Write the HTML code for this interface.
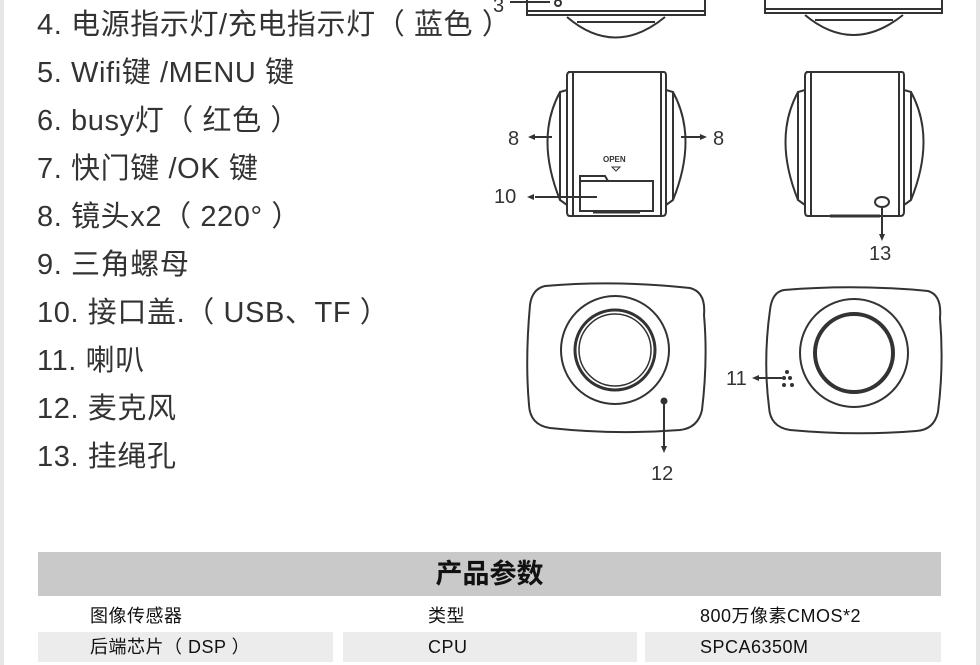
<!DOCTYPE html>
<html><head><meta charset="utf-8"><style>
body{margin:0;width:980px;height:665px;background:#fff;position:relative;overflow:hidden;font-family:"Liberation Sans","Noto Sans CJK SC",sans-serif;color:#333}
.bl{position:absolute;left:0;top:0;width:4px;height:665px;background:#e6e6e6}
.br{position:absolute;right:0;top:0;width:4px;height:665px;background:#e6e6e6}
.li{position:absolute;left:37px;font-size:29px;line-height:34px;white-space:nowrap;letter-spacing:0.6px}
.hd{position:absolute;left:38px;top:552px;width:903px;height:44px;background:#c9c9c9;text-align:center;font-size:27px;font-weight:bold;line-height:44px;color:#111}
.c{position:absolute;font-size:18px;line-height:30px;color:#111;letter-spacing:0.5px}
.g{position:absolute;top:632px;height:30px;background:#ececec}
</style></head><body>
<div class="bl"></div><div class="br"></div>
<div class="li" style="top:8px">4. 电源指示灯/充电指示灯（ 蓝色 ）</div>
<div class="li" style="top:56px">5. Wifi键 /MENU 键</div>
<div class="li" style="top:104px">6. busy灯（ 红色 ）</div>
<div class="li" style="top:152px">7. 快门键 /OK 键</div>
<div class="li" style="top:200px">8. 镜头x2（ 220° ）</div>
<div class="li" style="top:248px">9. 三角螺母</div>
<div class="li" style="top:296px">10. 接口盖.（ USB、TF ）</div>
<div class="li" style="top:344px">11. 喇叭</div>
<div class="li" style="top:392px">12. 麦克风</div>
<div class="li" style="top:440px">13. 挂绳孔</div>
<svg style="position:absolute;left:0;top:0" width="980" height="665" fill="none" stroke="#333" stroke-width="2">
<path d="M527 0 V15 H705 V0"/><path d="M527 11 H705"/>
<path d="M567 17 Q615 58 665 17"/><path d="M577 22 H655"/>
<path d="M765 0 V13 H942 V0"/><path d="M765 9 H942"/>
<path d="M805 15 Q853 55 903 15"/><path d="M815 20 H893"/>
<text x="493" y="12" fill="#333" stroke="none" font-size="20" font-family="Liberation Sans">3</text>
<path d="M510 2 H550"/><circle cx="558" cy="3" r="3"/>
<path d="M568 72 H664 Q666 72 666 76 V212 Q666 216 662 216 H570 Q567 216 567 212 V76 Q567 72 570 72Z"/>
<path d="M573 72 V216 M661 72 V216"/>
<path d="M560 92 Q535 138 560 200"/><path d="M567 90 L560 92 V200 L567 205"/>
<path d="M673 92 Q698 138 673 200"/><path d="M666 90 L673 92 V200 L666 205"/>
<rect x="580" y="181" width="73" height="30"/><path d="M580 181 V176 H605 L608 181"/>
<path d="M593 212 H640" stroke-width="3"/>
<path d="M597 197 H535 M552 137 H535 M681 137 H700"/>
<polygon points="528,137 535,134 535,140" fill="#333" stroke="none"/>
<polygon points="707,137 700,134 700,140" fill="#333" stroke="none"/>
<polygon points="527,197 534,194 534,200" fill="#333" stroke="none"/>
<text x="603" y="162" fill="#333" stroke="none" font-size="8" font-weight="bold" font-family="Liberation Sans">OPEN</text>
<polygon points="612,167 620,167 616,171" stroke-width="1"/>
<text x="508" y="145" fill="#333" stroke="none" font-size="20" font-family="Liberation Sans">8</text>
<text x="713" y="145" fill="#333" stroke="none" font-size="20" font-family="Liberation Sans">8</text>
<text x="494" y="203" fill="#333" stroke="none" font-size="20" font-family="Liberation Sans">10</text>
<path d="M806 72 H902 Q904 72 904 76 V212 Q904 216 900 216 H808 Q805 216 805 212 V76 Q805 72 808 72Z"/>
<path d="M811 72 V216 M899 72 V216"/>
<path d="M798 92 Q773 138 798 200"/><path d="M805 90 L798 92 V200 L805 205"/>
<path d="M911 92 Q936 138 911 200"/><path d="M904 90 L911 92 V200 L904 205"/>
<path d="M830 216 H880" stroke-width="3"/>
<ellipse cx="882" cy="202" rx="7" ry="5"/>
<path d="M882 207 V236"/><polygon points="882,241 879,234 885,234" fill="#333" stroke="none"/>
<text x="869" y="260" fill="#333" stroke="none" font-size="20" font-family="Liberation Sans">13</text>
<path d="M545 286 Q615 280 690 288 Q706 292 704 315 Q708 360 702 410 Q698 428 680 430 Q615 435 550 428 Q530 425 529 405 Q525 360 530 305 Q532 289 545 286Z"/>
<circle cx="615" cy="350" r="54"/>
<circle cx="615" cy="350" r="40" stroke-width="3"/><circle cx="615" cy="350" r="36" stroke-width="1.5"/>
<circle cx="664" cy="401" r="2.5" fill="#333"/>
<path d="M664 403 V448"/><polygon points="664,453 661,446 667,446" fill="#333" stroke="none"/>
<text x="651" y="480" fill="#333" stroke="none" font-size="20" font-family="Liberation Sans">12</text>
<path d="M784 290 Q855 284 928 291 Q942 295 940 318 Q944 365 938 412 Q934 430 916 431 Q855 436 790 430 Q770 427 769 407 Q763 360 770 310 Q772 292 784 290Z"/>
<circle cx="854" cy="353" r="54"/>
<circle cx="854" cy="353" r="39" stroke-width="4"/>
<path d="M756 378 H782"/><polygon points="752,378 759,375 759,381" fill="#333" stroke="none"/>
<g fill="#333" stroke="none"><circle cx="787" cy="372" r="2"/><circle cx="784" cy="378" r="2"/><circle cx="790" cy="378" r="2"/><circle cx="784" cy="385" r="2"/><circle cx="792" cy="385" r="2"/></g>
<text x="726" y="385" fill="#333" stroke="none" font-size="20" font-family="Liberation Sans">11</text>
</svg>
<div class="hd">产品参数</div>
<div class="g" style="left:38px;width:295px"></div>
<div class="g" style="left:343px;width:294px"></div>
<div class="g" style="left:645px;width:296px"></div>
<div class="c" style="left:90px;top:601px">图像传感器</div>
<div class="c" style="left:428px;top:601px">类型</div>
<div class="c" style="left:700px;top:601px">800万像素CMOS*2</div>
<div class="c" style="left:90px;top:632px">后端芯片（ DSP ）</div>
<div class="c" style="left:428px;top:632px">CPU</div>
<div class="c" style="left:700px;top:632px">SPCA6350M</div>
</body></html>
